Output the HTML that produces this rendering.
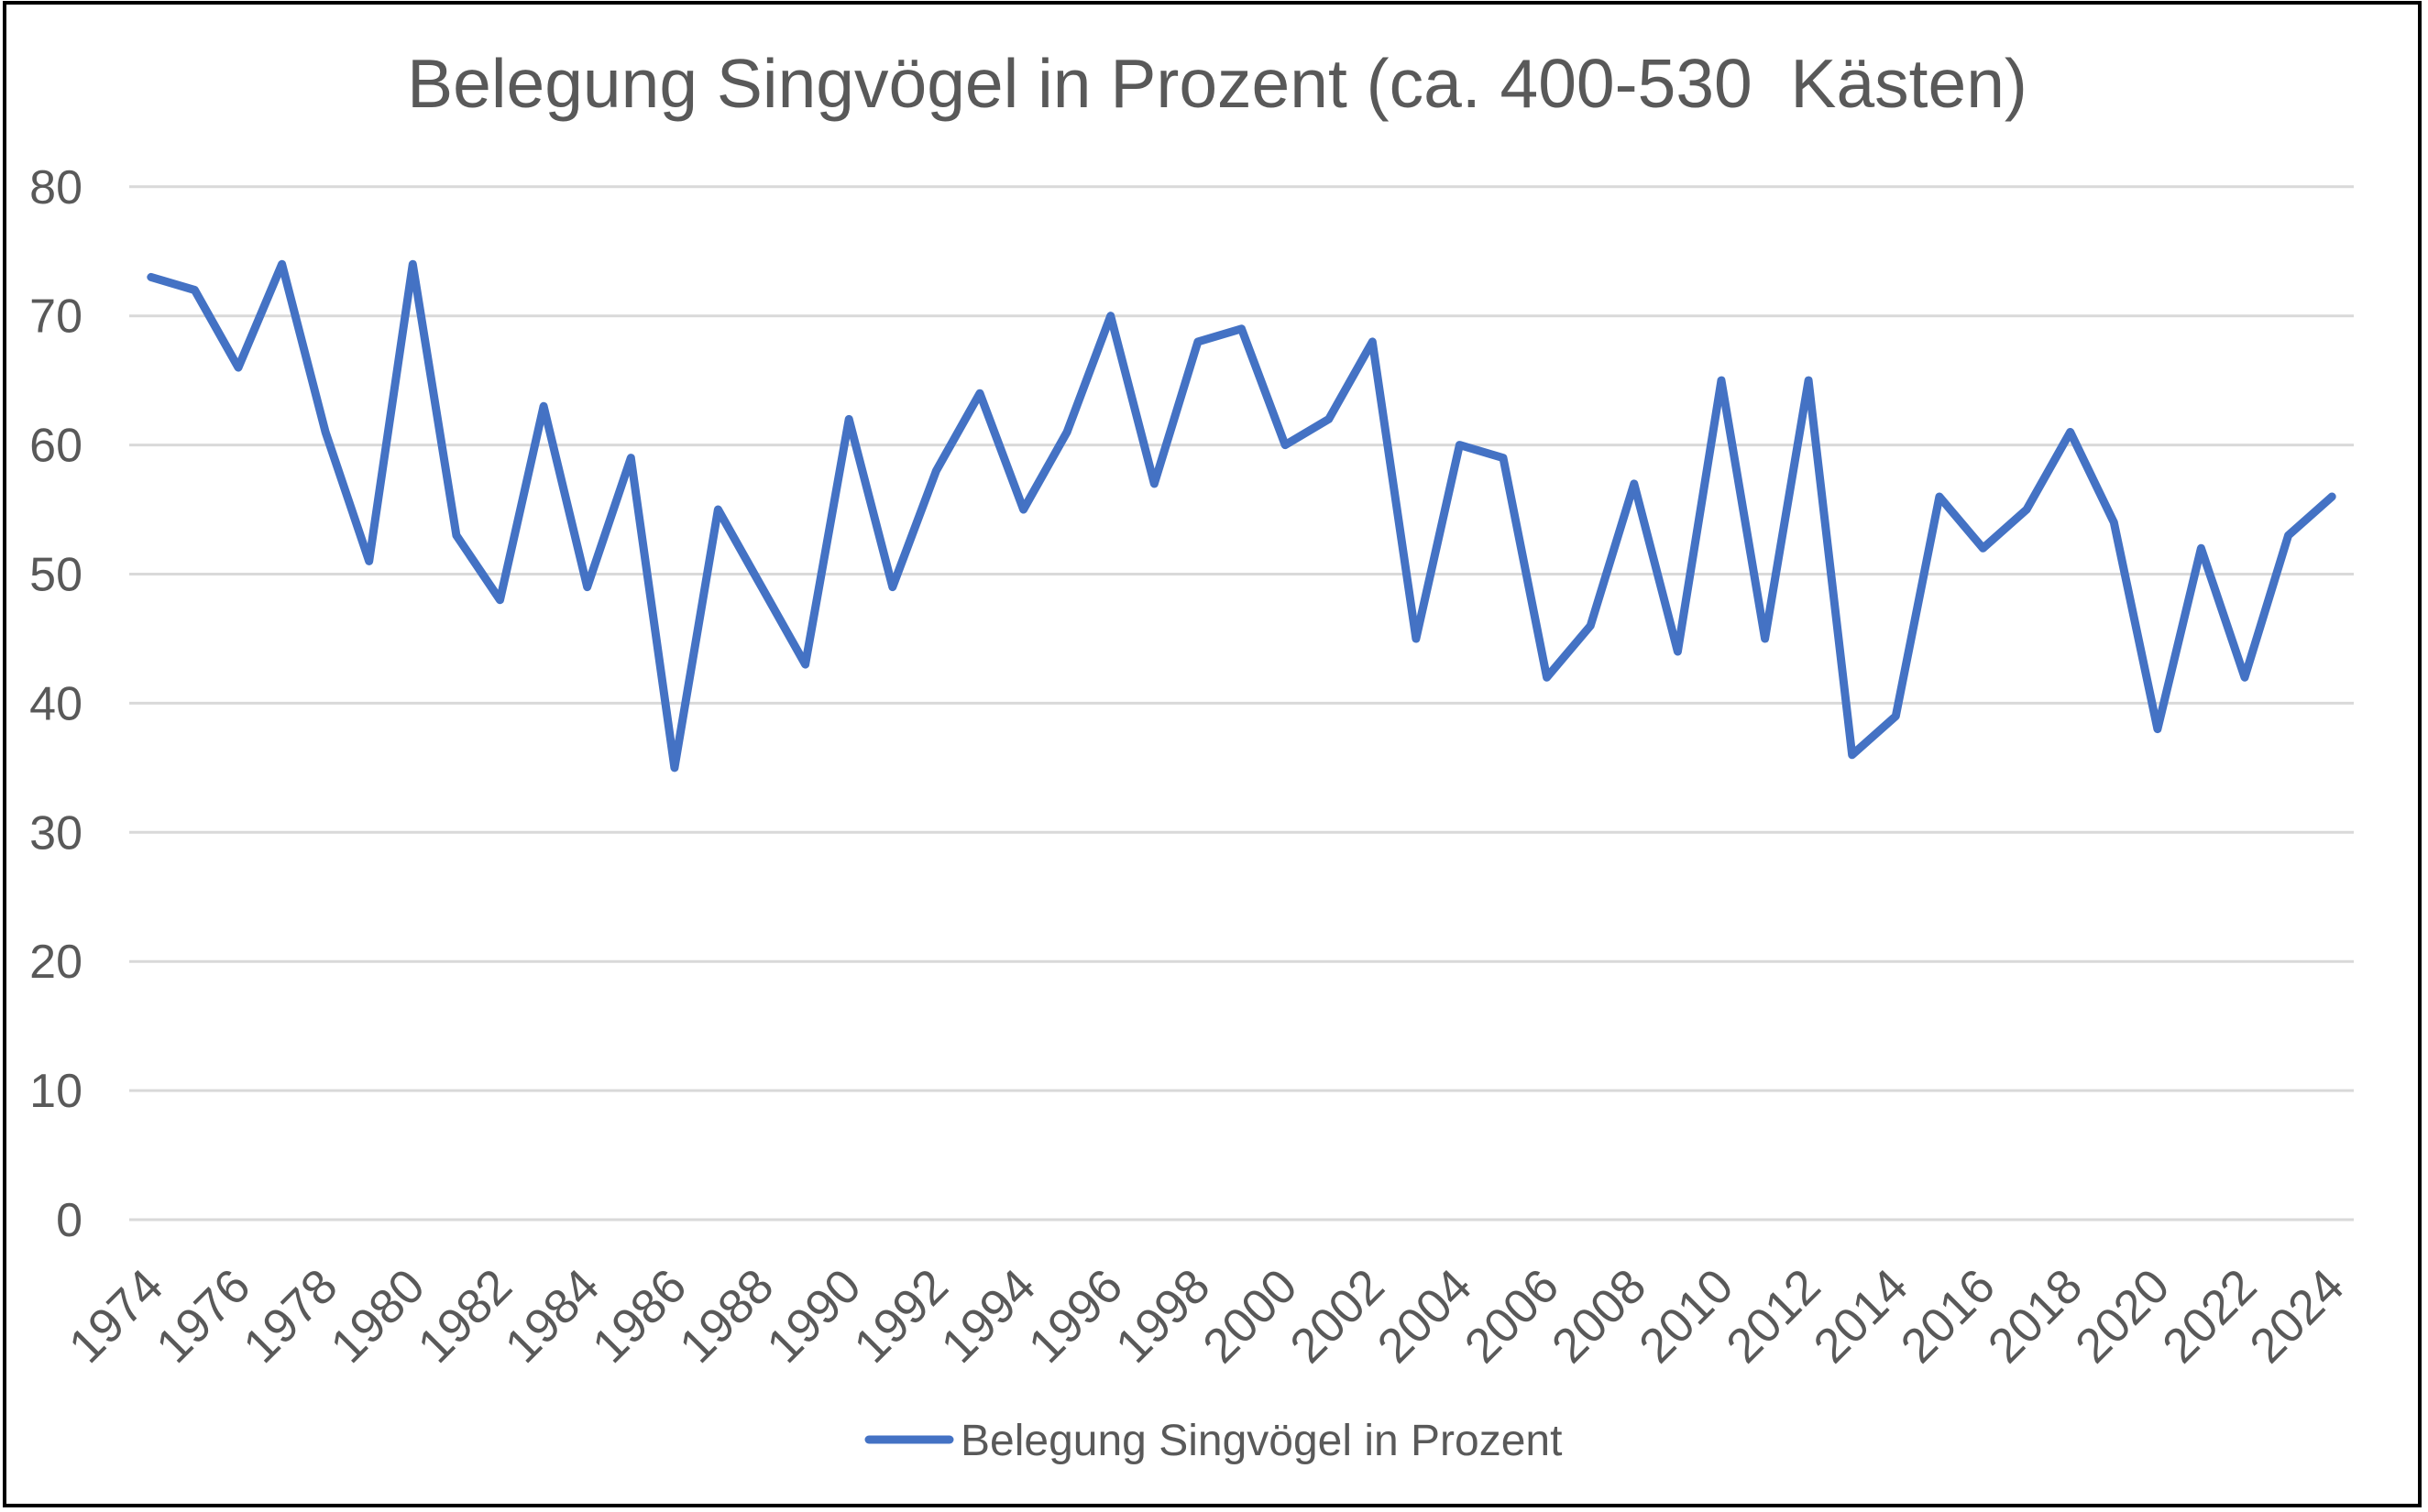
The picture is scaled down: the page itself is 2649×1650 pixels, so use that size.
<!DOCTYPE html>
<html><head><meta charset="utf-8"><style>
html,body{margin:0;padding:0;background:#fff}
svg{display:block}
text{font-family:"Liberation Sans",sans-serif;fill:#595959}
</style></head><body>
<svg width="2649" height="1650" viewBox="0 0 2649 1650" xmlns="http://www.w3.org/2000/svg">
<rect x="0" y="0" width="2649" height="1650" fill="#fff"/>
<rect x="5" y="3" width="2635" height="1640" fill="none" stroke="#000" stroke-width="4"/>
<text x="1328" y="117" font-size="75" text-anchor="middle">Belegung Singvögel in Prozent (ca. 400-530&#160; Kästen)</text>
<g id="grid" stroke="#d9d9d9" stroke-width="3"></g>
<g id="yl" font-size="52" text-anchor="end"></g>
<g id="xl" font-size="53" text-anchor="end"></g>
<polyline id="line" fill="none" stroke="#4472C4" stroke-width="9" stroke-linejoin="round" stroke-linecap="round"/>
<line x1="948" y1="1571" x2="1036" y2="1571" stroke="#4472C4" stroke-width="9" stroke-linecap="round"/>
<text x="1048" y="1588" font-size="48">Belegung Singvögel in Prozent</text>
</svg>
<script>
var d=[73,72,66,74,61,51,74,53,48,63,49,59,35,55,49,43,62,49,58,64,55,61,70,57,68,69,60,62,68,45,60,59,42,46,57,44,65,45,65,36,39,56,52,55,61,54,38,52,42,53,56];
var ns="http://www.w3.org/2000/svg";
function Y(v){return 1331-v*14.09;}
var x0=141,x1=2568,w=(x1-x0)/51;
function X(i){return x0+w*(i+0.5);}
var g=document.getElementById('grid'),yl=document.getElementById('yl'),xl=document.getElementById('xl');
for(var v=0;v<=80;v+=10){
 var l=document.createElementNS(ns,'line');l.setAttribute('x1',x0);l.setAttribute('x2',x1);l.setAttribute('y1',Y(v));l.setAttribute('y2',Y(v));g.appendChild(l);
 var t=document.createElementNS(ns,'text');t.setAttribute('x',90);t.setAttribute('y',Y(v)+18);t.textContent=v;yl.appendChild(t);
}
for(var i=0;i<51;i+=2){
 var t=document.createElementNS(ns,'text');var ax=X(i)+16,ay=1407;
 t.setAttribute('x',ax);t.setAttribute('y',ay);t.setAttribute('transform','rotate(-45 '+ax+' '+ay+')');t.textContent=1974+i;xl.appendChild(t);
}
var p=d.map(function(v,i){return X(i).toFixed(1)+','+Y(v).toFixed(1)}).join(' ');
document.getElementById('line').setAttribute('points',p);
</script>
</body></html>
